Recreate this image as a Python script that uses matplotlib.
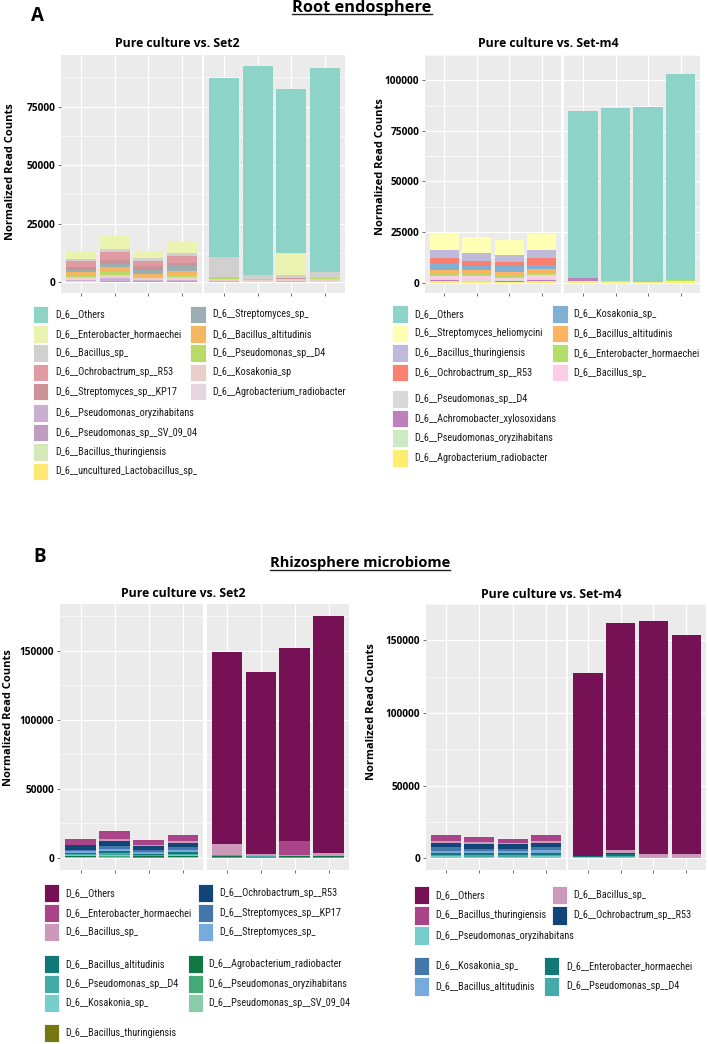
import matplotlib
matplotlib.use("Agg")
import matplotlib.pyplot as plt
import numpy as np
from matplotlib.patches import Rectangle
from matplotlib.lines import Line2D
from matplotlib import font_manager

W, H = 708, 1044

# ---------------- DATA ----------------
# Panel A, Root endosphere, Pure culture vs. Set2 (stack order top -> bottom)
a1_taxa = ["D_6__Others", "D_6__Enterobacter_hormaechei", "D_6__Bacillus_sp_",
           "D_6__Ochrobactrum_sp__R53", "D_6__Streptomyces_sp__KP17", "D_6__Streptomyces_sp_",
           "D_6__Bacillus_altitudinis", "D_6__Pseudomonas_sp__D4", "D_6__Kosakonia_sp",
           "D_6__Agrobacterium_radiobacter", "D_6__Pseudomonas_oryzihabitans",
           "D_6__Pseudomonas_sp__SV_09_04", "D_6__Bacillus_thuringiensis",
           "D_6__uncultured_Lactobacillus_sp_"]
a1_colors = ["#8DD3C7", "#EAF4B0", "#D2D0CF", "#DF9AA2", "#CB9398", "#9CAEB4",
             "#F4B660", "#B7DB66", "#EBCEC7", "#E6D6E0", "#C9AFD1", "#BE9DBE",
             "#D4E8B8", "#FFE871"]
a1_values = [
    [0, 0, 0, 0, 76800, 89400, 70000, 87100],
    [3500, 5700, 3000, 4600, 0, 0, 9600, 0],
    [1100, 1000, 1000, 1100, 8600, 1850, 1150, 2450],
    [2400, 3700, 2100, 2900, 0, 0, 0, 0],
    [1300, 1700, 1900, 1400, 0, 0, 300, 0],
    [700, 1400, 1700, 2400, 0, 0, 0, 0],
    [1800, 2100, 1100, 1400, 0, 0, 0, 0],
    [600, 1000, 600, 800, 600, 300, 50, 600],
    [700, 1200, 700, 1000, 800, 500, 900, 700],
    [300, 400, 300, 300, 300, 200, 300, 300],
    [500, 900, 500, 700, 300, 150, 300, 250],
    [300, 500, 200, 300, 0, 0, 0, 0],
    [200, 200, 100, 100, 0, 0, 0, 0],
    [100, 0, 0, 0, 0, 0, 0, 0],
]
a1_yticks = [0, 25000, 50000, 75000]

# Panel A, Root endosphere, Pure culture vs. Set-m4
a2_taxa = ["D_6__Others", "D_6__Streptomyces_heliomycini", "D_6__Bacillus_thuringiensis",
           "D_6__Ochrobactrum_sp__R53", "D_6__Kosakonia_sp_", "D_6__Bacillus_altitudinis",
           "D_6__Enterobacter_hormaechei", "D_6__Bacillus_sp_", "D_6__Pseudomonas_sp__D4",
           "D_6__Achromobacter_xylosoxidans", "D_6__Pseudomonas_oryzihabitans",
           "D_6__Agrobacterium_radiobacter"]
a2_colors = ["#8DD3C7", "#FFFFB3", "#BEBADA", "#FB8072", "#80B1D3", "#FDB462",
             "#B3DE69", "#FCCDE5", "#D9D9D9", "#BC80BD", "#CCEBC5", "#FFED6F"]
a2_values = [
    [0, 0, 0, 0, 82500, 85600, 86300, 102000],
    [8250, 7800, 7450, 7950, 0, 0, 0, 0],
    [4000, 3800, 3200, 4100, 0, 0, 0, 0],
    [2850, 2850, 2200, 3200, 0, 0, 0, 0],
    [3000, 1600, 2850, 1900, 0, 0, 0, 0],
    [1900, 2200, 1900, 1900, 0, 0, 0, 0],
    [950, 1250, 950, 1250, 0, 0, 0, 500],
    [1400, 1250, 950, 1900, 0, 0, 0, 0],
    [700, 800, 800, 500, 0, 300, 0, 0],
    [600, 300, 300, 600, 1900, 0, 0, 0],
    [400, 500, 300, 500, 0, 0, 0, 0],
    [250, 150, 100, 200, 600, 300, 400, 700],
]
a2_yticks = [0, 25000, 50000, 75000, 100000]

# Panel B, Rhizosphere microbiome, Pure culture vs. Set2
b1_taxa = ["D_6__Others", "D_6__Enterobacter_hormaechei", "D_6__Bacillus_sp_",
           "D_6__Ochrobactrum_sp__R53", "D_6__Streptomyces_sp__KP17", "D_6__Streptomyces_sp_",
           "D_6__Bacillus_altitudinis", "D_6__Pseudomonas_sp__D4", "D_6__Kosakonia_sp_",
           "D_6__Agrobacterium_radiobacter", "D_6__Pseudomonas_oryzihabitans",
           "D_6__Pseudomonas_sp__SV_09_04", "D_6__Bacillus_thuringiensis"]
b1_colors = ["#771155", "#AA4488", "#CC99BB", "#114477", "#4477AA", "#77AADD",
             "#117777", "#44AAAA", "#77CCCC", "#117744", "#44AA77", "#88CCAA", "#777711"]
b1_values = [
    [0, 0, 0, 0, 138900, 131500, 139800, 171100],
    [3800, 6100, 3600, 4400, 0, 0, 9700, 0],
    [700, 1200, 700, 1200, 7500, 1500, 700, 2200],
    [3000, 3900, 2900, 2900, 0, 0, 0, 0],
    [1300, 1950, 1700, 2400, 0, 0, 0, 0],
    [800, 1450, 1000, 1450, 0, 0, 0, 0],
    [1200, 1450, 800, 1200, 600, 0, 0, 0],
    [800, 1200, 700, 1000, 500, 400, 500, 0],
    [500, 700, 400, 600, 0, 0, 0, 0],
    [400, 600, 400, 500, 800, 500, 700, 1000],
    [500, 700, 400, 500, 500, 300, 500, 700],
    [400, 300, 200, 300, 0, 0, 0, 0],
    [100, 100, 50, 50, 0, 0, 0, 0],
]
b1_yticks = [0, 50000, 100000, 150000]

# Panel B, Rhizosphere microbiome, Pure culture vs. Set-m4
b2_taxa = ["D_6__Others", "D_6__Bacillus_thuringiensis", "D_6__Bacillus_sp_",
           "D_6__Ochrobactrum_sp__R53", "D_6__Kosakonia_sp_", "D_6__Bacillus_altitudinis",
           "D_6__Enterobacter_hormaechei", "D_6__Pseudomonas_sp__D4",
           "D_6__Pseudomonas_oryzihabitans"]
b2_colors = ["#771155", "#AA4488", "#CC99BB", "#114477", "#4477AA", "#77AADD",
             "#117777", "#44AAAA", "#77CCCC"]
b2_values = [
    [0, 0, 0, 0, 126000, 156200, 160200, 150800],
    [3800, 3400, 2500, 3800, 0, 0, 0, 0],
    [1350, 1350, 1100, 1350, 0, 2250, 1800, 1800],
    [3150, 3150, 2900, 3150, 0, 400, 0, 0],
    [2250, 1800, 1350, 2000, 0, 0, 0, 0],
    [1800, 1350, 1800, 2000, 0, 0, 0, 0],
    [1350, 1350, 1350, 1350, 500, 1600, 0, 0],
    [900, 900, 1000, 1000, 300, 250, 0, 0],
    [1200, 1100, 1100, 1150, 500, 1100, 1100, 1100],
]
b2_yticks = [0, 50000, 100000, 150000]

# ---------------- FONTS ----------------
avail = {f.name for f in font_manager.fontManager.ttflist}
BOLD_FONT = "Open Sans" if "Open Sans" in avail else "DejaVu Sans"
LEG_FONT, LEG_SIZE = "Roboto", 6.7
for cand, size in [("Liberation Sans Narrow", 7.6), ("Roboto Condensed", 7.4),
                   ("Arial Narrow", 7.6)]:
    if cand in avail:
        LEG_FONT, LEG_SIZE = cand, size
        break
if LEG_FONT not in avail:
    LEG_FONT, LEG_SIZE = "Liberation Sans", 6.0

fig = plt.figure(figsize=(W / 100, H / 100), dpi=100)
fig.patch.set_facecolor("white")


def fbox(l, t, r, b):
    return [l / W, 1 - b / H, (r - l) / W, (b - t) / H]


def style_axis(ax, yticks, show_labels):
    ax.set_facecolor("#EBEBEB")
    for s in ax.spines.values():
        s.set_visible(False)
    ax.set_xlim(0.4, 4.6)
    ax.set_xticks([1, 2, 3, 4])
    ax.set_xticklabels([])
    ax.set_yticks(yticks)
    minor = [(yticks[i] + yticks[i + 1]) / 2 for i in range(len(yticks) - 1)]
    minor.append(yticks[-1] + (yticks[1] - yticks[0]) / 2)
    ax.set_yticks(minor, minor=True)
    ax.grid(True, which="major", color="white", lw=0.9)
    ax.grid(True, which="minor", axis="y", color="white", lw=0.45)
    ax.set_axisbelow(True)
    ax.tick_params(axis="both", which="major", length=2.5, width=0.5, color="#333333",
                   pad=1.5)
    ax.tick_params(axis="y", which="minor", length=0)
    if show_labels:
        ax.set_yticklabels([str(t) for t in yticks], fontsize=7.3,
                           fontweight="bold", family=BOLD_FONT, color="black")
    else:
        ax.tick_params(axis="y", which="major", length=0, labelleft=False)


def draw_panel(l1, r1, l2, r2, t, b, colors, values, yticks):
    vals = np.array(values, dtype=float)
    totals = vals.sum(axis=0)
    ymax = totals.max()
    ax1 = fig.add_axes(fbox(l1, t, r1, b))
    ax2 = fig.add_axes(fbox(l2, t, r2, b))
    x = np.arange(1, 5)
    for k, ax in enumerate([ax1, ax2]):
        sub = vals[:, 4 * k:4 * k + 4]
        bottom = np.zeros(4)
        for i in reversed(range(sub.shape[0])):
            ax.bar(x, sub[i], bottom=bottom, width=0.9, color=colors[i], lw=0)
            bottom = bottom + sub[i]
        ax.set_ylim(-0.05 * ymax, 1.05 * ymax)
        style_axis(ax, yticks, k == 0)
    return ax1, ax2


draw_panel(61, 202, 204, 345, 55, 293, a1_colors, a1_values, a1_yticks)
draw_panel(425, 561, 563.5, 700, 55, 293, a2_colors, a2_values, a2_yticks)
draw_panel(60, 203.5, 206.5, 349, 604, 870, b1_colors, b1_values, b1_yticks)
draw_panel(426, 566, 568, 706, 604, 870, b2_colors, b2_values, b2_yticks)


def ftext(x, y, s, **kw):
    return fig.text(x / W, 1 - y / H, s, **kw)


# Panel letters and titles
ftext(31, 21, "A", fontsize=13.5, fontweight="bold", family=BOLD_FONT, va="baseline")
ftext(33, 562, "B", fontsize=13.5, fontweight="bold", family=BOLD_FONT, va="baseline")
t_a = ftext(362, 11.5, "Root endosphere", fontsize=11.8, fontweight="bold",
            family=BOLD_FONT, ha="center", va="baseline")
t_b = ftext(360, 567.5, "Rhizosphere microbiome", fontsize=10.5, fontweight="bold",
            family=BOLD_FONT, ha="center", va="baseline")

sub_kw = dict(fontsize=8.8, fontweight="bold", family=BOLD_FONT, ha="center", va="baseline")
ftext(177, 47, "Pure culture vs. Set2", **sub_kw)
ftext(548, 47, "Pure culture vs. Set-m4", **sub_kw)
ftext(183, 597, "Pure culture vs. Set2", **sub_kw)
ftext(551, 598, "Pure culture vs. Set-m4", **sub_kw)

yl_kw = dict(fontsize=8.0, fontweight="bold", family=BOLD_FONT, ha="center",
             va="center", rotation=90)
ftext(11, 172, "Normalized Read Counts", **yl_kw)
ftext(380, 167, "Normalized Read Counts", **yl_kw)
ftext(9, 718, "Normalized Read Counts", **yl_kw)
ftext(371, 712, "Normalized Read Counts", **yl_kw)

# underline the section titles
fig.canvas.draw()
renderer = fig.canvas.get_renderer()
for t_obj, y_line in [(t_a, 13.8), (t_b, 570.2)]:
    bb = t_obj.get_window_extent(renderer)
    fig.add_artist(Line2D([bb.x0 / W, bb.x1 / W], [1 - y_line / H, 1 - y_line / H],
                          transform=fig.transFigure, color="#222222", lw=1.0))


# Legends (manual ggplot-like key layout)
def legend_block(taxa, colors, columns, sw_lefts, txt_lefts, y0, pitch, sw_w=15.5, sw_h=17.5):
    cmap = dict(zip(taxa, colors))
    for names, sl, tl in zip(columns, sw_lefts, txt_lefts):
        for j, name in enumerate(names):
            yc = y0 + j * pitch
            fig.add_artist(Rectangle(((sl) / W, 1 - (yc + sw_h / 2) / H), sw_w / W, sw_h / H,
                                     transform=fig.transFigure, facecolor=cmap[name],
                                     edgecolor="white", lw=0.6))
            ftext(tl, yc, name, fontsize=LEG_SIZE, family=[LEG_FONT, "DejaVu Sans"],
                  va="center", ha="left", color="#1a1a1a")


legend_block(a1_taxa, a1_colors, [a1_taxa[0:5], a1_taxa[5:10]], [33, 190], [55, 212], 314.5, 19.3)
legend_block(a1_taxa, a1_colors, [a1_taxa[10:14]], [33], [55], 413, 19.5)

legend_block(a2_taxa, a2_colors, [a2_taxa[0:4], a2_taxa[4:8]], [392, 552], [414, 573], 314, 19.5)
legend_block(a2_taxa, a2_colors, [a2_taxa[8:12]], [392], [414], 399, 19.6)

legend_block(b1_taxa, b1_colors, [b1_taxa[0:3], b1_taxa[3:6]], [44, 198], [65, 219], 893, 19.6,
             sw_w=15, sw_h=18)
legend_block(b1_taxa, b1_colors, [b1_taxa[6:9], b1_taxa[9:12]], [44, 188], [65, 208], 964, 19.6,
             sw_w=15, sw_h=18)
legend_block(b1_taxa, b1_colors, [b1_taxa[12:13]], [44], [65], 1033, 19.6, sw_w=15, sw_h=18)

b2_leg1 = [["D_6__Others", "D_6__Bacillus_thuringiensis", "D_6__Pseudomonas_oryzihabitans"],
           ["D_6__Bacillus_sp_", "D_6__Ochrobactrum_sp__R53"]]
b2_leg2 = [["D_6__Kosakonia_sp_", "D_6__Bacillus_altitudinis"],
           ["D_6__Enterobacter_hormaechei", "D_6__Pseudomonas_sp__D4"]]
legend_block(b2_taxa, b2_colors, b2_leg1, [414, 552], [435, 573], 895, 20.3, sw_w=15, sw_h=18.5)
legend_block(b2_taxa, b2_colors, b2_leg2, [414, 544], [435, 566], 966, 20.3, sw_w=15, sw_h=18.5)

fig.savefig("out.png", dpi=100, facecolor="white")
